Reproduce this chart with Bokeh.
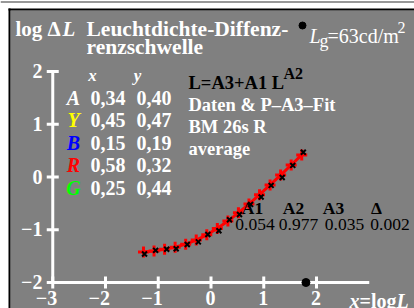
from bokeh.plotting import figure
from bokeh.models import Range1d
from bokeh.core.properties import value
from bokeh.embed import file_html
from bokeh.resources import INLINE

# ---- data ----
x_ticks = [-3, -2, -1, 0, 1, 2]
x_tick_labels = ["\u22123", "\u22122", "\u22121", "0", "1", "2"]
y_ticks = [-2, -1, 0, 1, 2]
y_tick_labels = ["\u22122", "\u22121", "0", "1", "2"]

meas_x = [-1.26, -1.05, -0.84, -0.66, -0.45, -0.24, -0.06, 0.15, 0.35, 0.54, 0.75, 0.95, 1.14, 1.35, 1.55, 1.75]
meas_y = [-1.46, -1.39, -1.37, -1.36, -1.28, -1.23, -1.09, -1.02, -0.81, -0.71, -0.52, -0.38, -0.16, -0.01, 0.22, 0.47]
fit_x = [-1.28, -1.08, -0.88, -0.68, -0.48, -0.28, -0.08, 0.12, 0.32, 0.52, 0.72, 0.92, 1.12, 1.32, 1.52, 1.72]
fit_y = [-1.420, -1.401, -1.372, -1.331, -1.273, -1.195, -1.096, -0.976, -0.836, -0.680, -0.512, -0.335, -0.151, 0.036, 0.227, 0.419]
adapt_log_L = [1.8]

legend_names = ["A", "Y", "B", "R", "G"]
legend_colors = ["white", "#ffff00", "#0000ff", "#ff0000", "#00ff00"]
legend_xv = ["0,34", "0,45", "0,15", "0,58", "0,25"]
legend_yv = ["0,40", "0,47", "0,19", "0,32", "0,44"]

param_names = ["A1", "A2", "A3", "\u0394"]
param_values = ["0.054", "0.977", "0.035", "0.002"]

info_lines = ["Daten & P\u2013A3\u2013Fit", "BM 26s R", "average"]

# ---- layout helpers (page pixel -> data) ----
SC = 52.75
def X(px):
    return (px - 210.5) / SC
def Y(py):
    return (176.5 - py) / SC

FONT = value("Liberation Serif")
GRAY = "#808080"

p = figure(width=414, height=308, x_range=Range1d(X(0), X(414)), y_range=Range1d(Y(308), Y(0)),
           output_backend="svg", toolbar_location=None, x_axis_type=None, y_axis_type=None,
           min_border=0, background_fill_color="white", border_fill_color="white", outline_line_color=None)
p.grid.visible = False

# panel: gray area with black left/top edges, thin rule at top
p.quad(left=[X(10)], right=[X(414)], top=[Y(10)], bottom=[Y(308)], fill_color=GRAY, line_color=None)
p.quad(left=[X(8)], right=[X(10)], top=[Y(8)], bottom=[Y(308)], fill_color="black", line_color=None)
p.quad(left=[X(8)], right=[X(414)], top=[Y(8)], bottom=[Y(10)], fill_color="black", line_color=None)
p.quad(left=[X(0)], right=[X(414)], top=[Y(1)], bottom=[Y(2)], fill_color="#333333", line_color=None)

def txt(xs, ys, texts, size, color="white", style="bold", align="left", baseline="alphabetic"):
    p.text(x=[X(v) for v in xs], y=[Y(v) for v in ys], text=texts, text_font=FONT,
           text_font_size=f"{size}px", text_color=color, text_font_style=style,
           text_align=align, text_baseline=baseline)

# axes
tl = 6 / SC
p.segment(x0=[x_ticks[0]], y0=[y_ticks[0]], x1=[3], y1=[y_ticks[0]], line_color="white", line_width=3)
p.segment(x0=[x_ticks[0]], y0=[y_ticks[0]], x1=[x_ticks[0]], y1=[y_ticks[-1]], line_color="white", line_width=3)
p.segment(x0=x_ticks, y0=[y_ticks[0] - tl] * len(x_ticks), x1=x_ticks, y1=[y_ticks[0] + tl] * len(x_ticks),
          line_color="white", line_width=3)
p.segment(x0=[x_ticks[0] - tl] * len(y_ticks), y0=y_ticks, x1=[x_ticks[0] + tl] * len(y_ticks), y1=y_ticks,
          line_color="white", line_width=3)

# tick labels
p.text(x=[t + 4.5 / SC for t in x_ticks], y=[Y(304)] * len(x_ticks), text=x_tick_labels, text_font=FONT,
       text_font_size="20px", text_color="white", text_font_style="bold", text_align="right")
p.text(x=[X(42)] * len(y_ticks), y=[t - 6.5 / SC for t in y_ticks], text=y_tick_labels, text_font=FONT,
       text_font_size="20px", text_color="white", text_font_style="bold", text_align="right")

# data
p.line(fit_x, fit_y, line_color="red", line_width=3)
p.scatter(fit_x, fit_y, marker="cross", size=11, line_color="red", line_width=3)
p.scatter(meas_x, meas_y, marker="x", size=7, line_color="black", line_width=2)
p.scatter(adapt_log_L, [y_ticks[0]], marker="circle", size=8, fill_color="black", line_color="black")

# title
txt([15], [28], ["log \u0394"], 21)
txt([62], [28], ["L"], 21, style="bold italic")
txt([86, 86], [28, 46], ["Leuchtdichte-Diffenz-", "renzschwelle"], 21.5)
p.scatter([X(302)], [Y(25)], marker="circle", size=7, fill_color="black", line_color="black")
txt([309], [35], ["L"], 20, style="italic")
txt([319], [40], ["g"], 18, style="normal")
txt([327], [35], ["=63cd/m"], 20, style="normal")
txt([397], [27], ["2"], 16, style="normal")

# legend table
txt([92, 137], [75, 75], ["x", "y"], 17, style="bold italic", align="center")
row_y = [97, 119.5, 142, 164.5, 187]
for i in range(len(legend_names)):
    txt([73], [row_y[i]], [legend_names[i]], 20, color=legend_colors[i], style="bold italic", align="center")
txt([90] * 5, row_y, legend_xv, 20)
txt([136] * 5, row_y, legend_yv, 20)

# formula block
txt([188], [82], ["L=A3+A1 L"], 18.5, color="black")
txt([283], [73], ["A2"], 16, color="black")
txt([188, 188, 188], [104, 126, 148], info_lines, 18.5)

# parameters
txt([252, 293, 333, 376], [207] * 4, param_names, 17.5, color="black", align="center")
txt([254.5, 298, 344, 389.5], [224] * 4, param_values, 17.5, color="black", style="normal", align="center")

# x axis label
txt([349], [300], ["x"], 20, style="bold italic")
txt([359], [300], ["=log"], 20)
txt([396], [300], ["L"], 20, style="bold italic")

open("out.html", "w").write(file_html(p, INLINE))
